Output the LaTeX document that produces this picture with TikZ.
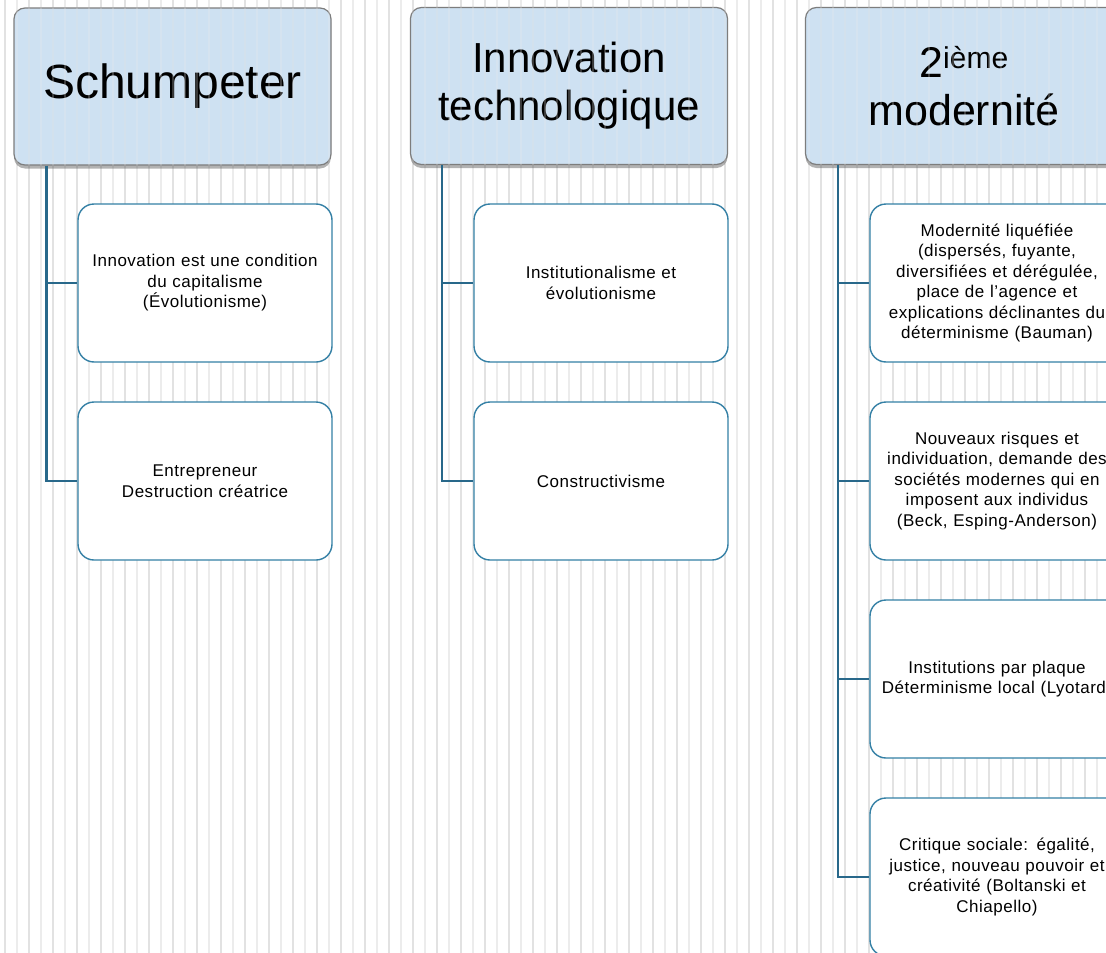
\documentclass[tikz,border=0pt]{standalone}
\usepackage{fontspec}
\setmainfont{Liberation Sans}
\newfontfamily\bodyfont[LetterSpace=3]{Liberation Sans}
\usetikzlibrary{calc,shadows}
\definecolor{headfill}{RGB}{206,225,242}
\definecolor{headline}{RGB}{125,125,125}
\definecolor{boxline}{RGB}{52,128,165}
\definecolor{connline}{RGB}{40,104,138}
\definecolor{stripeA}{RGB}{226,226,226}
\definecolor{stripeB}{RGB}{236,236,236}
\tikzset{
  head/.style={draw=headline, line width=1.2pt, fill=headfill, rounded corners=11pt,
    minimum width=317pt, minimum height=157pt, align=center, inner sep=0pt,
    drop shadow={shadow xshift=0pt, shadow yshift=-3.5pt, opacity=0.5, fill=black!60}},
  sub/.style={draw=boxline, line width=1.4pt, fill=white, rounded corners=16pt,
    minimum width=254pt, minimum height=158pt, text width=250pt, align=center, inner sep=0pt,
    font=\bodyfont\fontsize{17}{20.5}\selectfont},
  conn/.style={draw=connline, line width=2.8pt},
  stra/.style={draw=stripeA, line width=2pt},
  strb/.style={draw=stripeB, line width=1.2pt},
}
\newcommand{\stripes}[1]{%
  \foreach \i in {0,...,46} {
    \draw[stra,#1] ({5+24*\i},0) -- ({5+24*\i},953);
    \draw[strb,#1] ({17+24*\i},0) -- ({17+24*\i},953);
  }}
\begin{document}
\begin{tikzpicture}[x=1pt,y=-1pt]
\useasboundingbox (0,0) rectangle (1106,953);
\clip (0,0) rectangle (1106,953);
\fill[white] (0,0) rectangle (1106,953);
\stripes{}

% headers
\node[head, font=\fontsize{48}{55}\selectfont] (s) at (172.5,86.5) {Schumpeter};
\node[head, font=\fontsize{42}{48}\selectfont] (t) at (569,86) {Innovation\\technologique};
\node[head, font=\fontsize{43}{48}\selectfont] (m) at (964,86) {2\textsuperscript{ième}\\modernité};

\foreach \h in {s,t,m} {
  \begin{scope}
    \clip[rounded corners=11pt] (\h.south west) rectangle (\h.north east);
    \stripes{opacity=0.25}
  \end{scope}
}

% connector anchors
\coordinate (sv) at ($(s.south west)+(33,0)$);
\coordinate (tv) at ($(t.south west)+(32,0)$);
\coordinate (mv) at ($(m.south west)+(33,0)$);

% sub boxes
\node[sub] (s1) at (205,283) {Innovation est une condition\\du capitalisme\\(Évolutionisme)};
\node[sub] (s2) at (205,481) {Entrepreneur\\Destruction créatrice};
\node[sub] (t1) at (601,283) {Institutionalisme et\\évolutionisme};
\node[sub] (t2) at (601,481) {Constructivisme};
\node[sub] (m1) at (997,283) {Modernité liquéfiée\\(dispersés, fuyante,\\diversifiées et dérégulée,\\place de l’agence et\\explications déclinantes du\\déterminisme (Bauman)};
\node[sub] (m2) at (997,481) {Nouveaux risques et\\individuation, demande des\\sociétés modernes qui en\\imposent aux individus\\(Beck, Esping-Anderson)};
\node[sub] (m3) at (997,679) {Institutions par plaque\\Déterminisme local (Lyotard)};
\node[sub] (m4) at (997,877) {Critique sociale: égalité,\\justice, nouveau pouvoir et\\créativité (Boltanski et\\Chiapello)};

% connectors
\draw[conn] (sv) |- (s1.west);
\draw[conn] (sv) |- (s2.west);
\draw[conn] (tv) |- (t1.west);
\draw[conn] (tv) |- (t2.west);
\draw[conn] (mv) |- (m1.west);
\draw[conn] (mv) |- (m2.west);
\draw[conn] (mv) |- (m3.west);
\draw[conn] (mv) |- (m4.west);
\end{tikzpicture}
\end{document}
